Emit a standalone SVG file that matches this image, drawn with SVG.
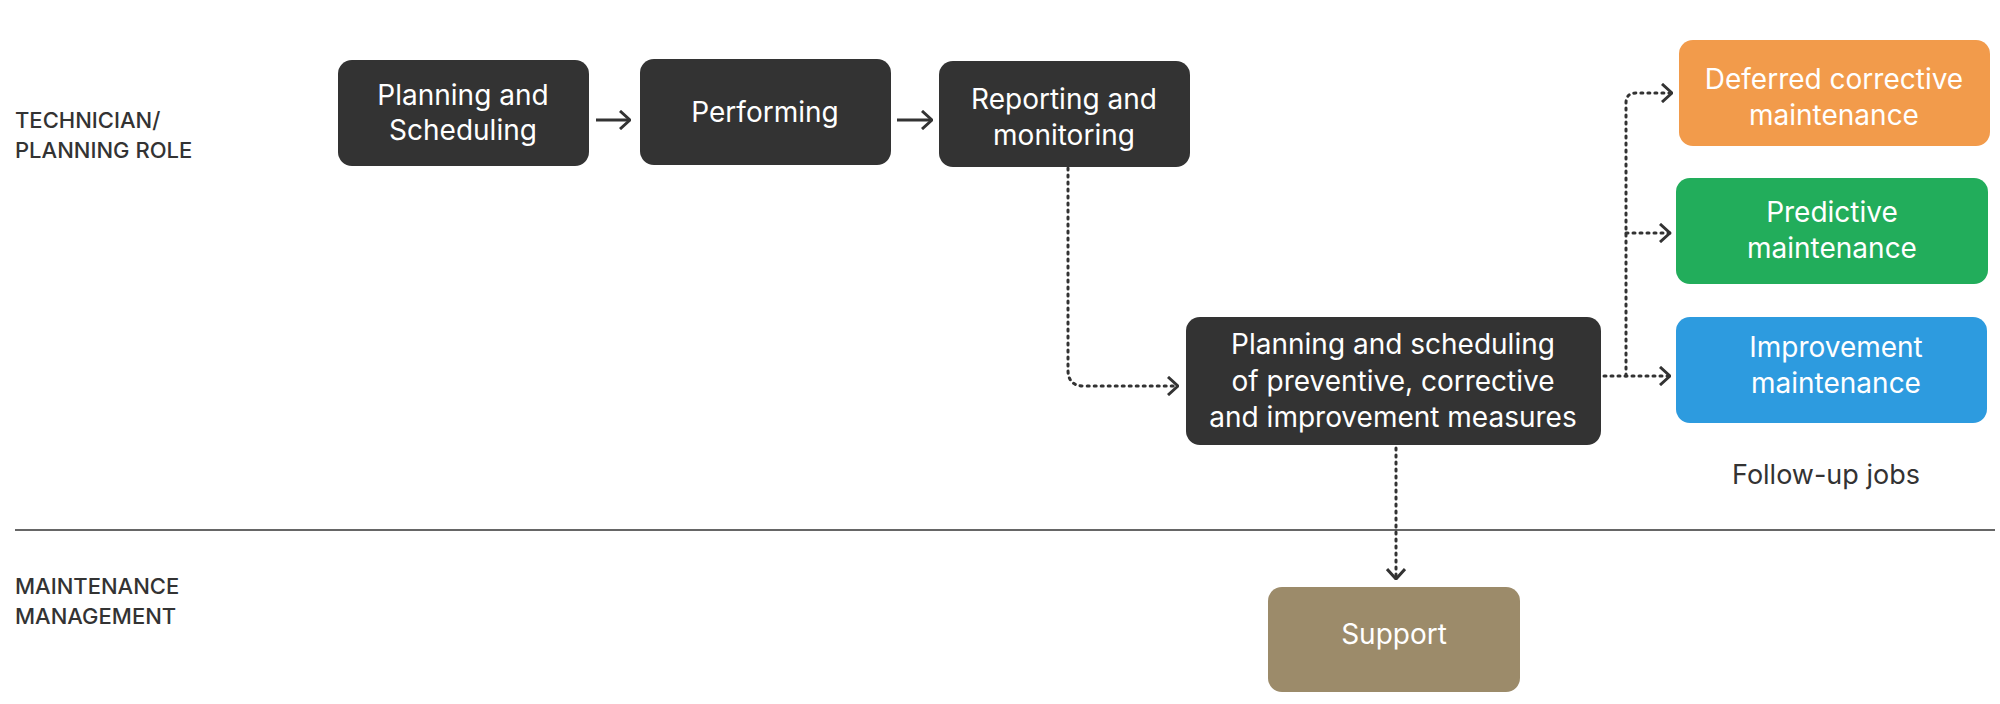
<svg xmlns="http://www.w3.org/2000/svg" width="2000" height="704" viewBox="0 0 2000 704">
<style>
.n{font-family:Inter,"Open Sans",sans-serif;font-size:28px;fill:#fff;text-anchor:middle;dominant-baseline:central}
.l{font-family:Inter,"Open Sans",sans-serif;font-size:22px;font-weight:500;fill:#333}
.c{fill:none;stroke:#333;stroke-width:3}
.d{stroke-dasharray:2 5;stroke-linecap:round}
</style>
<defs><marker id="a" viewBox="0 0 12 20" refX="11" refY="10" markerWidth="12" markerHeight="20" markerUnits="userSpaceOnUse" orient="auto"><path d="M1 1 L11 10 L1 19" fill="none" stroke="#333" stroke-width="3"/></marker></defs>
<rect width="2000" height="704" fill="#fff"/>
<g id="lanes">
<text class="l" x="15" y="128">TECHNICIAN/</text>
<text class="l" x="15" y="158">PLANNING ROLE</text>
<line x1="15" y1="530" x2="1995" y2="530" stroke="#333" stroke-width="1.5"/>
<text class="l" x="15" y="594">MAINTENANCE</text>
<text class="l" x="15" y="624">MANAGEMENT</text>
<text x="1826" y="474" font-family="Inter,'Open Sans',sans-serif" font-size="27" fill="#333" text-anchor="middle" dominant-baseline="central">Follow-up jobs</text>
</g>
<g id="connectors">
<path class="c" d="M596 120 H630" marker-end="url(#a)"/>
<path class="c" d="M897 120 H932" marker-end="url(#a)"/>
<path class="c d" d="M1068 168 V370 Q1068 386 1084 386 H1178" marker-end="url(#a)"/>
<path class="c d" d="M1604 376 H1670" marker-end="url(#a)"/>
<path class="c d" d="M1626 376 V103 Q1626 93 1636 93 H1672" marker-end="url(#a)"/>
<path class="c d" d="M1626 233 H1670" marker-end="url(#a)"/>
<path class="c d" d="M1396 448 V579" marker-end="url(#a)"/>
</g>
<g id="n1"><rect x="338" y="60" width="251" height="106" rx="14" fill="#333"/><text class="n" x="463" y="95">Planning and</text><text class="n" x="463" y="130">Scheduling</text></g>
<g id="n2"><rect x="640" y="59" width="251" height="106" rx="14" fill="#333"/><text class="n" x="765" y="112">Performing</text></g>
<g id="n3"><rect x="939" y="61" width="251" height="106" rx="14" fill="#333"/><text class="n" x="1064" y="99">Reporting and</text><text class="n" x="1064" y="135">monitoring</text></g>
<g id="n4"><rect x="1186" y="317" width="415" height="128" rx="14" fill="#333"/><text class="n" x="1393" y="344">Planning and scheduling</text><text class="n" x="1393" y="381">of preventive, corrective</text><text class="n" x="1393" y="417">and improvement measures</text></g>
<g id="n5"><rect x="1679" y="40" width="311" height="106" rx="14" fill="#F29B4B"/><text class="n" x="1834" y="79">Deferred corrective</text><text class="n" x="1834" y="115">maintenance</text></g>
<g id="n6"><rect x="1676" y="178" width="312" height="106" rx="14" fill="#22AD5B"/><text class="n" x="1832" y="212">Predictive</text><text class="n" x="1832" y="248">maintenance</text></g>
<g id="n7"><rect x="1676" y="317" width="311" height="106" rx="14" fill="#2D9BDF"/><text class="n" x="1836" y="347">Improvement</text><text class="n" x="1836" y="383">maintenance</text></g>
<g id="n8"><rect x="1268" y="587" width="252" height="105" rx="14" fill="#9C8B6A"/><text class="n" x="1394" y="634">Support</text></g>
</svg>
